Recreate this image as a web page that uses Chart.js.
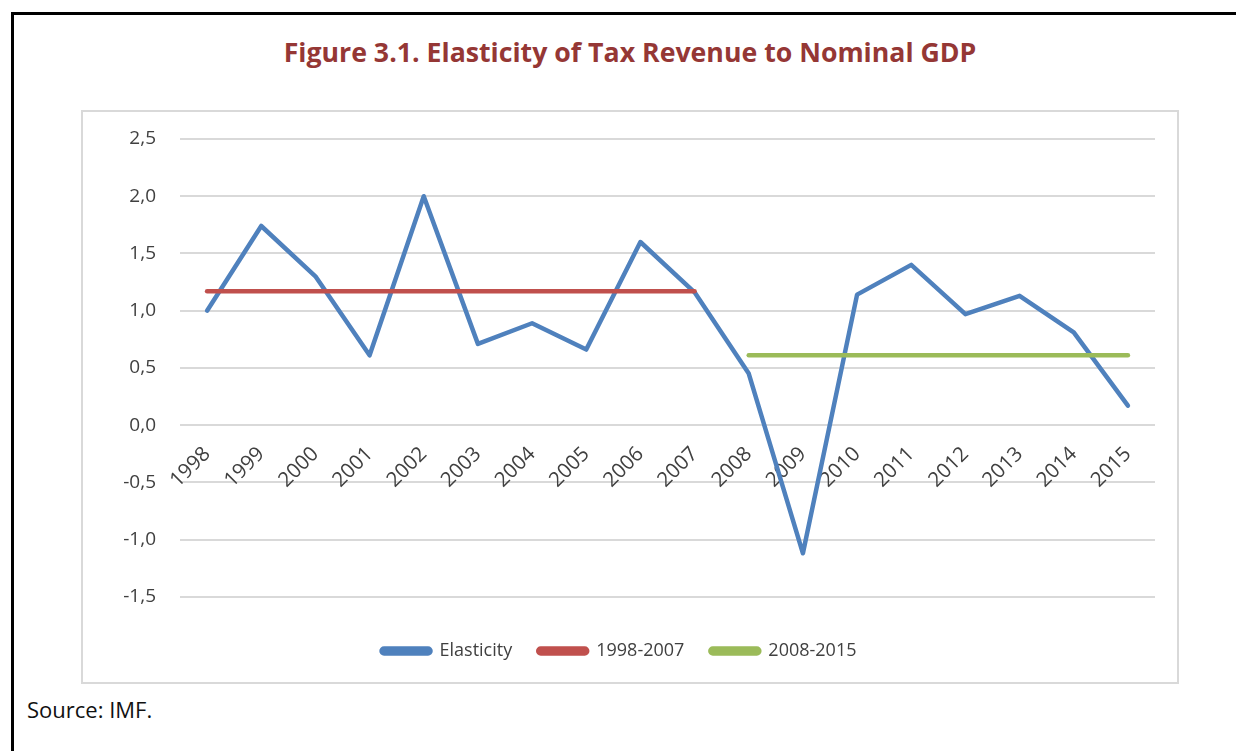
<!DOCTYPE html>
<html>
<head>
<meta charset="utf-8">
<script src="https://cdn.jsdelivr.net/npm/chart.js@4"></script>
<style>
  html, body { margin: 0; padding: 0; background: #fff; overflow: hidden; }
  body { width: 1236px; height: 751px; position: relative; font-family: 'Open Sans', sans-serif; }
  #frame { position: absolute; left: 11px; top: 12px; width: 1400px; height: 900px;
           border-left: 3px solid #000; border-top: 3px solid #000; }
  #title { position: absolute; left: 0; width: 1260px; top: 33px; text-align: center;
           font-weight: bold; font-size: 26.7px; color: #953735; }
  #box { position: absolute; left: 81px; top: 110px; width: 1094px; height: 570px;
         border: 2px solid #d9d9d9; }
  #box canvas { position: absolute; left: 0; top: 0; }
  #source { position: absolute; left: 27px; top: 694px; font-size: 22px; color: #111; }
</style>
</head>
<body>
<div id="frame"></div>
<div id="title">Figure 3.1. Elasticity of Tax Revenue to Nominal GDP</div>
<div id="box"><canvas id="chart" width="1094" height="570"></canvas></div>
<div id="source">Source: IMF.</div>
<script>
// values
const years = ['1998', '1999', '2000', '2001', '2002', '2003', '2004', '2005', '2006',
  '2007', '2008', '2009', '2010', '2011', '2012', '2013', '2014', '2015'];
const elasticity = [1.00, 1.74, 1.30, 0.61, 2.00, 0.71, 0.89, 0.66, 1.60,
  1.16, 0.45, -1.12, 1.14, 1.40, 0.97, 1.13, 0.81, 0.17];
const avg1998_2007 = [1.17, 1.17, 1.17, 1.17, 1.17, 1.17, 1.17, 1.17, 1.17,
  1.17, null, null, null, null, null, null, null, null];
const avg2008_2015 = [null, null, null, null, null, null, null, null, null,
  null, 0.61, 0.61, 0.61, 0.61, 0.61, 0.61, 0.61, 0.61];
const yTicks = [-1.5, -1.0, -0.5, 0.0, 0.5, 1.0, 1.5, 2.0, 2.5];

const TEXT = '#404040';
const GRID = '#d9d9d9';
const FONT = 'Open Sans, sans-serif';

function lineSet(label, data, color, order) {
  return {
    label: label,
    data: data,
    borderColor: color,
    backgroundColor: color,
    borderWidth: 4.5,
    borderCapStyle: 'round',
    borderJoinStyle: 'round',
    pointRadius: 0,
    pointHoverRadius: 0,
    tension: 0,
    spanGaps: false,
    order: order
  };
}

new Chart(document.getElementById('chart'), {
  type: 'line',
  data: {
    labels: years,
    datasets: [
      lineSet('Elasticity', elasticity, '#4f81bd', 2),
      lineSet('1998-2007', avg1998_2007, '#c0504d', 1),
      lineSet('2008-2015', avg2008_2015, '#9bbb59', 0)
    ]
  },
  options: {
    responsive: false,
    animation: false,
    layout: { padding: { top: 27, right: 22, left: 0, bottom: 12 } },
    plugins: {
      tooltip: { enabled: false },
      legend: {
        position: 'bottom',
        // empty title used only as a spacer between plot and legend
        title: { display: true, text: ' ', font: { size: 1 }, padding: { top: 0, bottom: 18 } },
        labels: {
          color: TEXT,
          font: { family: FONT, size: 18 },
          boxWidth: 49,
          boxHeight: 5,
          padding: 26,
          useBorderRadius: true,
          borderRadius: 2.5,
          sort: (a, b) => a.datasetIndex - b.datasetIndex
        }
      }
    },
    scales: {
      x: {
        position: { y: 0 },
        offset: true,
        grid: { display: false, drawTicks: false, offset: true },
        border: { display: false },
        ticks: {
          autoSkip: false,
          minRotation: 45,
          maxRotation: 45,
          padding: 17,
          color: TEXT,
          font: { family: FONT, size: 20.5 }
        }
      },
      y: {
        min: -1.5,
        max: 2.5,
        afterFit: s => { s.width = 97; s.paddingTop = 0; s.paddingBottom = 0; },
        afterBuildTicks: s => { s.ticks = yTicks.map(v => ({ value: v })); },
        grid: { color: GRID, lineWidth: 2, drawTicks: false },
        border: { display: false },
        ticks: {
          padding: 24,
          color: TEXT,
          font: { family: FONT, size: 19 },
          callback: v => v.toFixed(1).replace('.', ',')
        }
      }
    }
  }
});
</script>
</body>
</html>
